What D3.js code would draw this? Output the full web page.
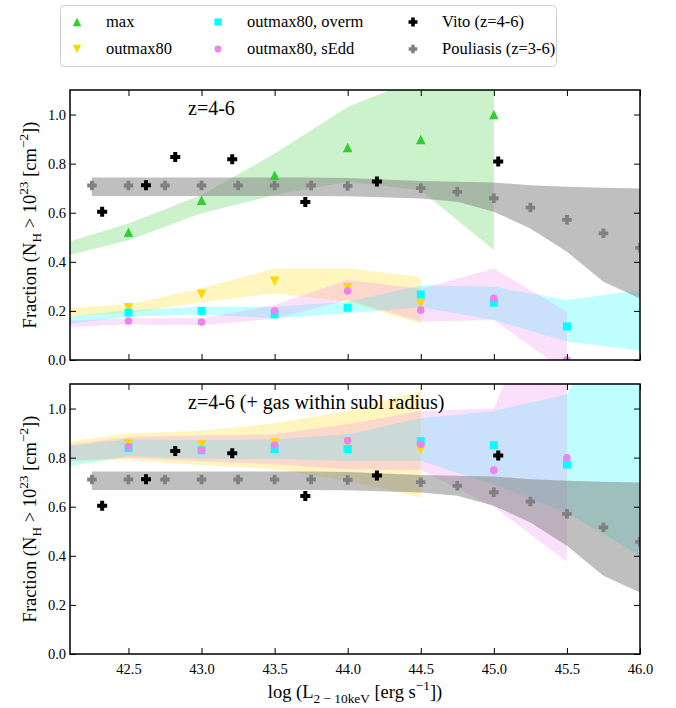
<!DOCTYPE html>
<html>
<head>
<meta charset="utf-8">
<script src="https://cdn.jsdelivr.net/npm/d3@7"></script>
<style>
  body { margin: 0; background: #fff; }
  svg text { font-family: "Liberation Serif", "Times New Roman", serif !important; fill: #000; }
</style>
</head>
<body>
<svg id="chart" width="676" height="708"></svg>
<script>
// Luminosity bins, log L(2-10 keV) [erg/s]
const lumBins = [42.0, 42.5, 43.0, 43.5, 44.0, 44.5, 45.0, 45.5, 46.0];

// ---- z = 4-6 ----
const maxMed    = [null, 0.52, 0.651, 0.753, 0.866, 0.898, 1.0, null, null];
const maxLo     = [0.413, 0.488, 0.598, 0.672, 0.726, 0.692, 0.448, null, null];
const maxHi     = [0.466, 0.556, 0.672, 0.841, 1.031, 1.15, 1.25, null, null];

const outMed    = [null, 0.213, 0.268, 0.321, 0.294, 0.231, null, null, null];
const outLo     = [0.178, 0.19, 0.235, 0.271, 0.237, 0.149, null, null, null];
const outHi     = [0.21, 0.226, 0.292, 0.373, 0.373, 0.339, null, null, null];

const overmMed  = [null, 0.193, 0.2, 0.186, 0.213, 0.267, 0.233, 0.137, null];
const overmLo   = [0.14, 0.176, 0.186, 0.17, 0.19, 0.215, 0.163, 0.075, 0.038];
const overmHi   = [0.172, 0.203, 0.217, 0.217, 0.237, 0.305, 0.298, 0.244, 0.285];

const seddMed   = [null, 0.159, 0.155, 0.2, 0.281, 0.203, 0.251, 0.0, null];
const seddLo    = [0.132, 0.145, 0.142, 0.168, 0.244, 0.156, 0.163, -0.05, null];
const seddHi    = [0.158, 0.17, 0.17, 0.224, 0.326, 0.29, 0.373, 0.197, null];

// ---- z = 4-6, including gas within the sublimation radius ----
const outMedS   = [null, 0.857, 0.851, 0.86, 0.865, 0.833, null, null, null];
const outLoS    = [0.783, 0.79, 0.77, 0.753, 0.705, 0.638, null, null, null];
const outHiS    = [0.858, 0.898, 0.91, 0.94, 0.99, 1.07, null, null, null];

const overmMedS = [null, 0.84, 0.83, 0.835, 0.835, 0.867, 0.851, 0.772, null];
const overmLoS  = [0.755, 0.807, 0.795, 0.794, 0.787, 0.787, 0.69, 0.575, 0.40];
const overmHiS  = [0.84, 0.875, 0.871, 0.875, 0.895, 0.96, 0.99, 1.058, 1.6];

const seddMedS  = [null, 0.844, 0.83, 0.851, 0.869, 0.855, 0.749, 0.799, null];
const seddLoS   = [0.785, 0.80, 0.785, 0.773, 0.753, 0.75, 0.60, 0.376, null];
const seddHiS   = [0.845, 0.884, 0.89, 0.895, 0.936, 0.99, 1.0, 1.7, null];

// ---- observations ----
const vitoL     = [42.32, 42.62, 42.82, 43.21, 43.71, 44.2, 45.03];
const vitoFrac  = [0.604, 0.712, 0.827, 0.818, 0.644, 0.727, 0.809];

const pouL      = [42.25, 42.5, 42.75, 43.0, 43.25, 43.5, 43.75, 44.0, 44.5, 44.75, 45.0, 45.25, 45.5, 45.75, 46.0];
const pouFrac   = [0.711, 0.711, 0.711, 0.711, 0.711, 0.711, 0.711, 0.709, 0.70, 0.685, 0.659, 0.621, 0.571, 0.516, 0.457];
const pouLo     = [0.668, 0.668, 0.668, 0.668, 0.668, 0.668, 0.668, 0.667, 0.658, 0.645, 0.604, 0.536, 0.441, 0.319, 0.251];
const pouHi     = [0.744, 0.744, 0.744, 0.744, 0.744, 0.744, 0.744, 0.741, 0.729, 0.726, 0.723, 0.712, 0.706, 0.702, 0.699];

const xTicks = [42.5, 43.0, 43.5, 44.0, 44.5, 45.0, 45.5, 46.0];
const yTicks = [0.0, 0.2, 0.4, 0.6, 0.8, 1.0];

const COL = { max: "#32cd32", out: "#ffd700", overm: "#00ffff", sedd: "#ee82ee", vito: "#000000", pou: "#808080" };
const SERIF = '"Liberation Serif", "Times New Roman", serif';

// ---- marker shapes ----
function markerPath(kind, s) {
  const h = s / 2;
  switch (kind) {
    case "tri":  return `M0,${-h}L${h},${h}L${-h},${h}Z`;
    case "tridown": return `M0,${h}L${h},${-h}L${-h},${-h}Z`;
    case "square": return `M${-h},${-h}H${h}V${h}H${-h}Z`;
    case "circle": return d3.symbol(d3.symbolCircle, Math.PI * h * h)();
    case "plus": {
      const t = s * 0.2;
      return `M${-t},${-h}H${t}V${-t}H${h}V${t}H${t}V${h}H${-t}V${t}H${-h}V${-t}H${-t}Z`;
    }
  }
}
const MK = {
  max:   { kind: "tri", size: 9.5 },
  out:   { kind: "tridown", size: 9.5 },
  overm: { kind: "square", size: 8 },
  sedd:  { kind: "circle", size: 7.6 },
  vito:  { kind: "plus", size: 10 },
  pou:   { kind: "plus", size: 9.5 }
};

// ---- text with sub/superscripts ----
function rich(sel, parts, size) {
  let shift = 0;
  parts.forEach(([str, kind]) => {
    const target = kind === "sup" ? -0.42 * size : kind === "sub" ? 0.28 * size : 0;
    sel.append("tspan")
      .attr("dy", target - shift)
      .attr("font-size", kind ? size * 0.72 : size)
      .text(str);
    shift = target;
  });
}

const svg = d3.select("#chart");
const left = 70, right = 640;

const x = d3.scaleLinear().domain([42.1, 46.0]).range([left, right]);

const panels = [
  {
    id: "p1", top: 90, bottom: 360, label: "z=4-6",
    bands: [
      { key: "max", lo: maxLo, hi: maxHi, alpha: 0.25 },
      { key: "out", lo: outLo, hi: outHi, alpha: 0.25 },
      { key: "overm", lo: overmLo, hi: overmHi, alpha: 0.25 },
      { key: "sedd", lo: seddLo, hi: seddHi, alpha: 0.25 }
    ],
    points: [
      { key: "max", med: maxMed },
      { key: "out", med: outMed },
      { key: "overm", med: overmMed },
      { key: "sedd", med: seddMed }
    ]
  },
  {
    id: "p2", top: 384, bottom: 654, label: "z=4-6 (+ gas within subl radius)",
    bands: [
      { key: "out", lo: outLoS, hi: outHiS, alpha: 0.25 },
      { key: "overm", lo: overmLoS, hi: overmHiS, alpha: 0.25 },
      { key: "sedd", lo: seddLoS, hi: seddHiS, alpha: 0.25 }
    ],
    points: [
      { key: "out", med: outMedS },
      { key: "overm", med: overmMedS },
      { key: "sedd", med: seddMedS }
    ]
  }
];

panels.forEach((p, pi) => {
  const y = d3.scaleLinear().domain([0, 1.1]).range([p.bottom, p.top]);
  const g = svg.append("g");

  g.append("clipPath").attr("id", "clip-" + p.id)
    .append("rect").attr("x", left).attr("y", p.top)
    .attr("width", right - left).attr("height", p.bottom - p.top);

  const plot = g.append("g").attr("clip-path", `url(#clip-${p.id})`);

  const area = d3.area()
    .defined(d => d.lo != null && d.hi != null)
    .x(d => x(d.x)).y0(d => y(d.lo)).y1(d => y(d.hi));

  // model bands
  p.bands.forEach(b => {
    const rows = lumBins.map((v, i) => ({ x: v, lo: b.lo[i], hi: b.hi[i] }));
    plot.append("path").datum(rows)
      .attr("d", area)
      .attr("fill", COL[b.key]).attr("fill-opacity", b.alpha);
  });

  // Pouliasis et al. band
  const pouRows = pouL.map((v, i) => ({ x: v, lo: pouLo[i], hi: pouHi[i] }));
  plot.append("path").datum(pouRows).attr("d", area)
    .attr("fill", COL.pou).attr("fill-opacity", 0.5);

  // model medians
  p.points.forEach(s => {
    const rows = lumBins.map((v, i) => ({ x: v, f: s.med[i] })).filter(d => d.f != null);
    plot.selectAll(null).data(rows).join("path")
      .attr("transform", d => `translate(${x(d.x)},${y(d.f)})`)
      .attr("d", markerPath(MK[s.key].kind, MK[s.key].size))
      .attr("fill", COL[s.key]);
  });

  // observations
  plot.selectAll(null).data(pouL.map((v, i) => ({ x: v, f: pouFrac[i] }))).join("path")
    .attr("transform", d => `translate(${x(d.x)},${y(d.f)})`)
    .attr("d", markerPath(MK.pou.kind, MK.pou.size))
    .attr("fill", COL.pou);
  plot.selectAll(null).data(vitoL.map((v, i) => ({ x: v, f: vitoFrac[i] }))).join("path")
    .attr("transform", d => `translate(${x(d.x)},${y(d.f)})`)
    .attr("d", markerPath(MK.vito.kind, MK.vito.size))
    .attr("fill", COL.vito);

  // axes: ticks point inward on all four sides
  const tl = 6;
  const axB = g.append("g").attr("transform", `translate(0,${p.bottom})`)
    .call(d3.axisBottom(x).tickValues(xTicks).tickSizeInner(-tl).tickSizeOuter(0)
      .tickFormat(pi === 1 ? d3.format(".1f") : ""));
  const axT = g.append("g").attr("transform", `translate(0,${p.top})`)
    .call(d3.axisTop(x).tickValues(xTicks).tickSizeInner(-tl).tickSizeOuter(0).tickFormat(""));
  const axL = g.append("g").attr("transform", `translate(${left},0)`)
    .call(d3.axisLeft(y).tickValues(yTicks).tickSizeInner(-tl).tickSizeOuter(0).tickFormat(d3.format(".1f")));
  const axR = g.append("g").attr("transform", `translate(${right},0)`)
    .call(d3.axisRight(y).tickValues(yTicks).tickSizeInner(-tl).tickSizeOuter(0).tickFormat(""));

  [axB, axT, axL, axR].forEach(a => {
    a.attr("font-family", null);
    a.select(".domain").remove();
    a.selectAll(".tick line").attr("stroke", "#000").attr("stroke-width", 1);
    a.selectAll(".tick text").style("font-family", SERIF)
      .attr("font-size", 14.5).attr("fill", "#000");
  });
  axL.selectAll(".tick text").attr("x", -4).attr("dy", "0.34em");
  axB.selectAll(".tick text").attr("y", 9).attr("dy", "0.75em");

  // frame
  g.append("rect").attr("x", left).attr("y", p.top)
    .attr("width", right - left).attr("height", p.bottom - p.top)
    .attr("fill", "none").attr("stroke", "#000").attr("stroke-width", 1.5);

  // panel title
  g.append("text").attr("x", 188).attr("y", p.top + 25)
    .style("font-family", SERIF)
    .attr("font-size", 20).text(p.label);

  // y axis label
  const yl = g.append("text")
    .attr("transform", `translate(36,${(p.top + p.bottom) / 2}) rotate(-90)`)
    .attr("text-anchor", "middle").style("font-family", SERIF);
  rich(yl, [["Fraction (N", ""], ["H", "sub"], [" > 10", ""], ["23", "sup"], [" [cm", ""], ["\u22122", "sup"], ["])", ""]], 18.5);
});

// x axis label
const xl = svg.append("text").attr("x", 355).attr("y", 698)
  .attr("text-anchor", "middle").style("font-family", SERIF);
rich(xl, [["log (L", ""], ["2 \u2212 10keV", "sub"], [" [erg s", ""], ["\u22121", "sup"], ["])", ""]], 18.5);

// legend
const legend = svg.append("g");
legend.append("rect").attr("x", 60.5).attr("y", 5.5).attr("width", 496).attr("height", 61)
  .attr("rx", 4).attr("fill", "#fff").attr("stroke", "#d0d0d0").attr("stroke-width", 1);
const legendItems = [
  { key: "max", text: "max", col: 0, row: 0 },
  { key: "out", text: "outmax80", col: 0, row: 1 },
  { key: "overm", text: "outmax80, overm", col: 1, row: 0 },
  { key: "sedd", text: "outmax80, sEdd", col: 1, row: 1 },
  { key: "vito", text: "Vito (z=4-6)", col: 2, row: 0 },
  { key: "pou", text: "Pouliasis (z=3-6)", col: 2, row: 1 }
];
const colX = [77, 218, 413];
const rowY = [22, 49];
legendItems.forEach(it => {
  const mx = colX[it.col], my = rowY[it.row];
  legend.append("path").attr("transform", `translate(${mx},${my})`)
    .attr("d", markerPath(MK[it.key].kind, MK[it.key].size * 0.9))
    .attr("fill", COL[it.key]);
  legend.append("text").attr("x", mx + 29).attr("y", my).attr("dy", "0.33em")
    .style("font-family", SERIF)
    .attr("font-size", 16.5).text(it.text);
});
</script>
</body>
</html>
